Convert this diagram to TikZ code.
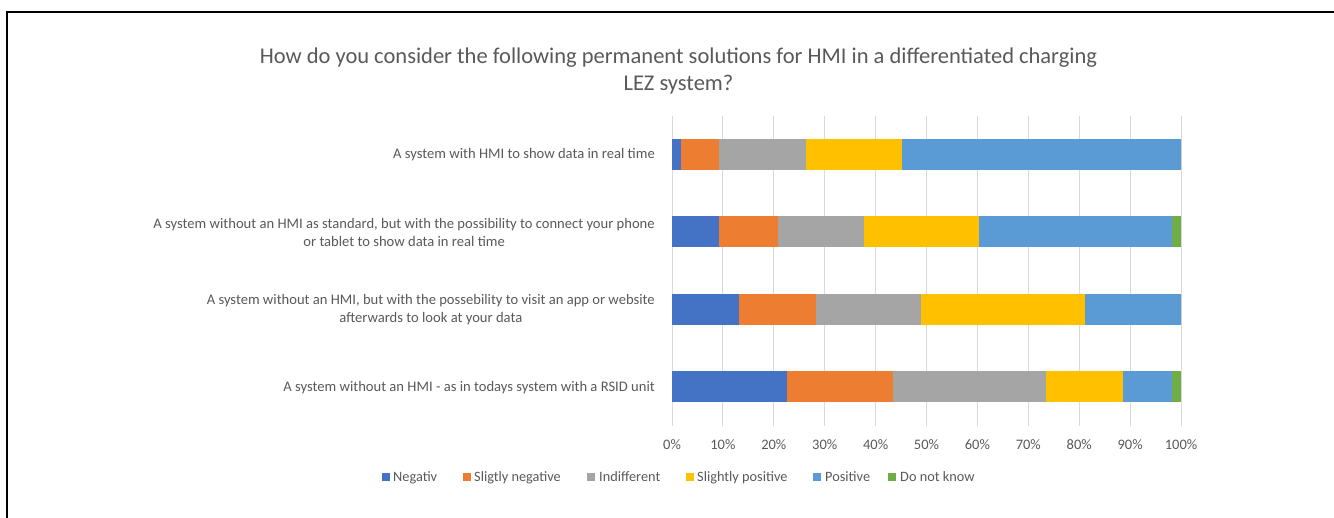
\documentclass[tikz,border=0pt]{standalone}
\usepackage{fontspec}
\setmainfont{Carlito}
\definecolor{c1}{HTML}{4472C4}
\definecolor{c2}{HTML}{ED7D31}
\definecolor{c3}{HTML}{A5A5A5}
\definecolor{c4}{HTML}{FFC000}
\definecolor{c5}{HTML}{5B9BD5}
\definecolor{c6}{HTML}{70AD47}
\definecolor{txt}{HTML}{595959}
\definecolor{gridc}{HTML}{D9D9D9}
\begin{document}
\begin{tikzpicture}[x=1pt,y=-1pt,
  gridline/.style={draw=gridc,line width=1pt},
  ticklabel/.style={text=txt,font=\fontsize{14.5}{16}\selectfont,inner sep=0pt},
  catlabel/.style={text=txt,font=\fontsize{14.6}{18}\selectfont,align=center,anchor=east,inner sep=0pt},
  legsq/.style={inner sep=0pt,minimum size=7.5pt},
  legtext/.style={text=txt,font=\fontsize{14.3}{16}\selectfont,anchor=base west,inner sep=0pt}]
\useasboundingbox (0,0) rectangle (1334,518);
\draw[line width=2.5pt] (7,518) -- (7,12) -- (1334,12);
% title
\node[text=txt,font=\fontsize{22.5}{27}\selectfont,align=center,inner sep=0pt] (title) at (678.5,71)
  {How do you consider the following permanent solutions for HMI in a differentiated charging\\LEZ system?};
% grid + ticks
\foreach \i in {0,...,10}{
  \draw[gridline] (672+50.9*\i,116) -- (672+50.9*\i,426);
  \node[ticklabel] (t\i) at (672+50.9*\i,445) {\the\numexpr\i*10\relax\%};
}
% bars
\foreach \yc/\vals in {154.5/{1.8,9.3,26.3,45.2,100,100},
                       232/{9.3,20.8,37.7,60.3,98.2,100},
                       309.5/{13.1,28.2,49.0,81.2,100,100},
                       387/{22.5,43.4,73.5,88.7,98.2,100}}{
  \foreach \v [count=\k, remember=\v as \p (initially 0)] in \vals {
    \fill[c\k] (672+5.09*\p,\yc-15.5) rectangle (672+5.09*\v,\yc+15.5);
  }
}
% category labels
\node[catlabel] (l1) at (655,155) {A system with HMI to show data in real time};
\node[catlabel] (l2) at (655,232.5) {A system without an HMI as standard, but with the possibility to connect your phone\\or tablet to show data in real time};
\node[catlabel] (l3) at (655,310) {A system without an HMI, but with the possebility to visit an app or website\\afterwards to look at your data};
\node[catlabel] (l4) at (655,387.5) {A system without an HMI - as in todays system with a RSID unit};
% legend
\foreach \n/\c/\sx/\tx/\lab in {a/c1/386/393/Negativ, b/c2/467/474/Sligtly negative, c/c3/591/599/Indifferent,
                               d/c4/690/697/Slightly positive, e/c5/817/825/Positive, f/c6/892/900/Do not know}{
  \node[legsq,fill=\c] (sq\n) at (\sx,477) {};
  \node[legtext] (lt\n) at (\tx,482) {\lab};
}
\end{tikzpicture}
\end{document}
